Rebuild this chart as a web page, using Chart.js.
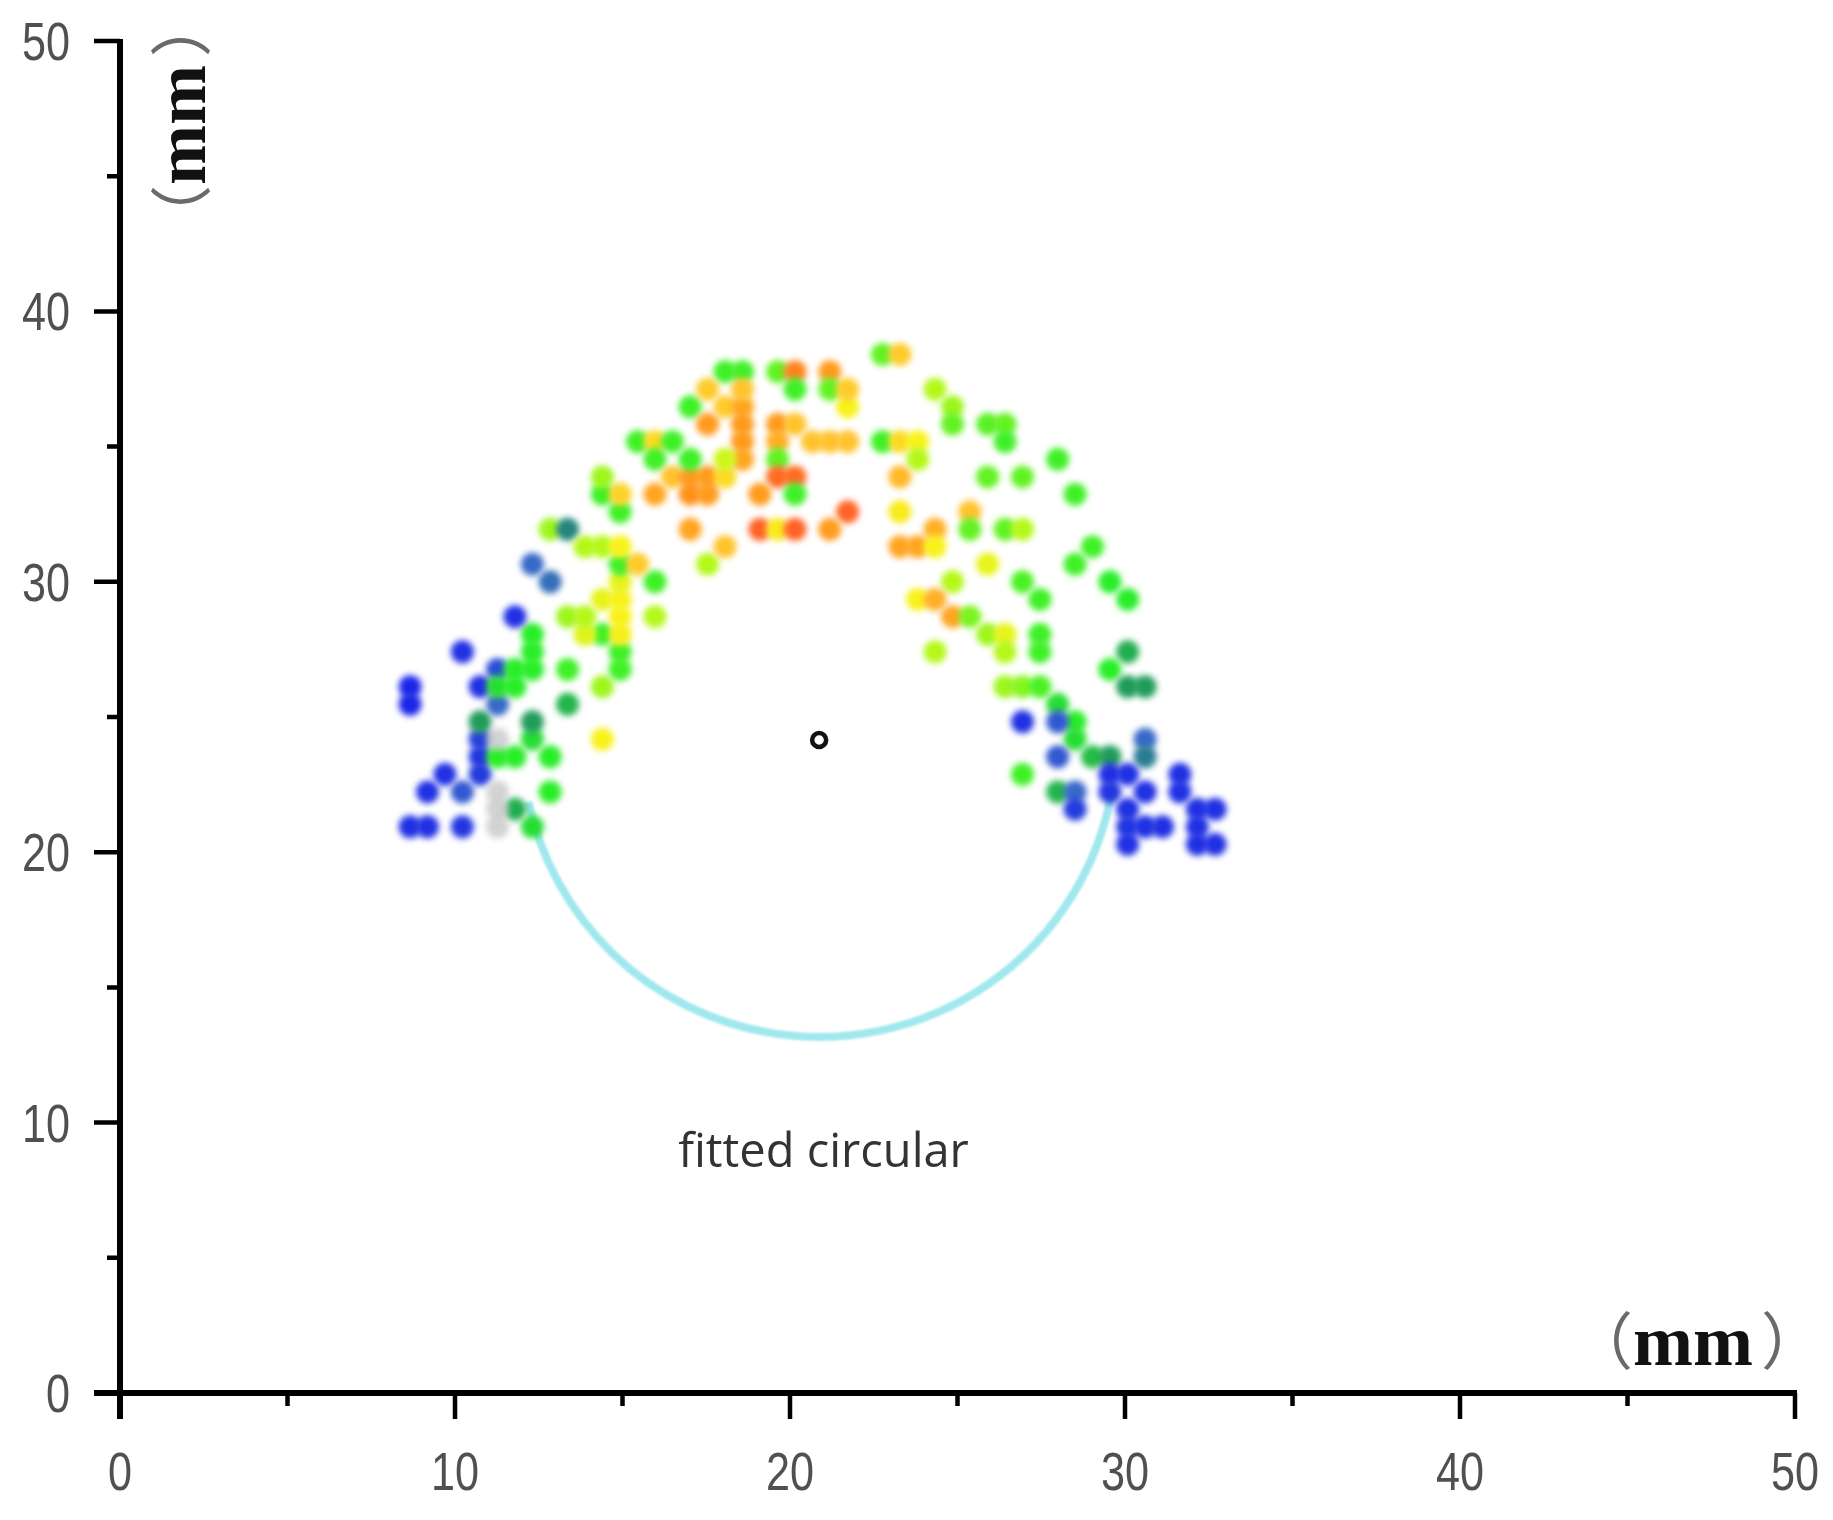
<!DOCTYPE html>
<html>
<head>
<meta charset="utf-8">
<script src="https://cdn.jsdelivr.net/npm/chart.js@4.4.1/dist/chart.umd.min.js"></script>
<style>
html,body{margin:0;padding:0;background:#ffffff;}
#wrap{width:1833px;height:1520px;position:relative;}
canvas{display:block;}
</style>
</head>
<body>
<div id="wrap"><canvas id="c" width="1833" height="1520"></canvas></div>
<script>
// ---------------- data ----------------
const xTicks = [0, 10, 20, 30, 40, 50];
const yTicks = [0, 10, 20, 30, 40, 50];

// measured points (mm)
const pointX = [
  8.66, 9.18, 10.22, 9.18, 9.70, 10.22, 10.75, 10.75, 10.75, 10.75,
  11.27, 11.79, 12.31, 12.31, 12.84, 12.84, 11.79, 12.31, 8.66, 8.66,
  10.22, 10.75, 11.27, 11.27, 11.27, 11.79, 11.79, 12.31, 12.31, 12.31,
  11.79, 13.36, 13.36, 14.40, 14.40, 14.93, 14.93, 14.40, 14.93, 13.88,
  13.36, 13.88, 14.93, 14.40, 14.93, 14.93, 15.97, 15.97, 14.93, 15.45,
  12.31, 12.84, 12.84, 13.36, 13.88, 14.40, 14.93, 14.93, 14.40, 14.40,
  14.93, 15.45, 15.97, 16.49, 15.97, 15.97, 17.02, 17.02, 17.54, 18.06,
  11.27, 11.27, 11.27, 11.27,
  16.49, 17.02, 17.54, 18.06, 17.02, 17.54, 17.02, 18.06, 18.58, 19.63,
  20.15, 20.15, 21.19, 21.19, 21.72, 21.72, 17.54, 18.06, 18.58, 18.58,
  18.58, 18.58, 18.06, 17.54, 19.63, 20.15, 19.63, 19.63, 20.67, 21.19,
  21.72, 19.63, 20.15, 20.15, 19.10, 21.72, 19.10, 19.63, 20.15, 21.19,
  18.58,
  22.76, 23.28, 24.33, 24.85, 24.85, 22.76, 23.28, 23.81, 23.81, 23.28,
  23.28, 23.28, 23.81, 24.33, 24.33, 25.37, 25.37, 24.85, 23.81, 24.33,
  24.85, 25.37, 25.90, 26.42, 26.42, 24.33, 25.90, 26.42, 26.42, 27.99,
  25.90, 26.94, 28.51, 26.42, 26.94, 25.90, 26.94, 27.46, 28.51, 29.03,
  29.55, 30.08, 27.46, 27.46, 30.08, 29.55, 30.08, 30.60, 26.42, 26.94,
  27.46, 27.99, 28.51, 28.51, 29.03, 29.55, 26.94, 27.99, 27.99, 26.94,
  27.99, 28.51, 28.51, 30.60, 30.60, 29.55, 30.08, 29.55, 30.60, 30.08,
  30.08, 30.60, 31.12, 30.08, 31.64, 31.64, 32.16, 32.69, 32.16, 32.16,
  32.69
];
const pointY = [
  20.94, 20.94, 20.94, 22.23, 22.88, 22.23, 22.88, 23.53, 24.18, 24.82,
  23.53, 23.53, 24.18, 24.82, 23.53, 22.23, 21.59, 20.94, 25.47, 26.12,
  27.41, 26.12, 26.76, 25.47, 26.12, 26.12, 26.76, 26.76, 27.41, 28.06,
  28.71, 25.47, 26.76, 26.12, 24.18, 26.76, 27.41, 28.06, 28.06, 28.06,
  28.71, 28.71, 28.71, 29.35, 29.35, 30.00, 28.71, 30.00, 30.65, 30.65,
  30.65, 30.00, 31.94, 31.94, 31.30, 31.30, 31.30, 32.59, 33.24, 33.88,
  33.24, 35.18, 35.18, 35.18, 34.53, 33.24, 36.47, 31.94, 30.65, 31.30,
  20.94, 21.59, 22.23, 24.18,
  33.88, 33.88, 33.88, 33.88, 33.24, 33.24, 34.53, 37.77, 37.77, 37.77,
  37.77, 37.12, 37.77, 37.12, 36.47, 37.12, 37.12, 36.47, 36.47, 35.83,
  35.18, 34.53, 34.53, 35.83, 35.83, 35.83, 35.18, 34.53, 35.18, 35.18,
  35.18, 33.88, 33.88, 33.24, 33.24, 32.59, 31.94, 31.94, 31.94, 31.94,
  37.12,
  38.41, 38.41, 37.12, 36.47, 35.83, 35.18, 35.18, 35.18, 34.53, 33.88,
  32.59, 31.30, 31.30, 31.94, 31.30, 32.59, 31.94, 30.00, 29.35, 29.35,
  28.71, 28.71, 28.06, 28.06, 27.41, 27.41, 35.83, 35.83, 35.18, 34.53,
  33.88, 33.88, 33.24, 31.94, 31.94, 30.65, 30.00, 29.35, 30.65, 31.30,
  30.00, 29.35, 28.06, 27.41, 27.41, 26.76, 26.12, 26.12, 26.12, 26.12,
  26.12, 25.47, 24.82, 24.18, 23.53, 23.53, 24.82, 24.82, 23.53, 22.88,
  22.23, 22.23, 21.59, 24.18, 23.53, 22.88, 22.88, 22.23, 22.23, 21.59,
  20.94, 20.94, 20.94, 20.29, 22.88, 22.23, 21.59, 21.59, 20.94, 20.29,
  20.29
];
// relative intensity of each point (0 = low / blue ... 1 = high / red, -1 = background trace)
const pointValue = [
  0.05, 0.05, 0.06, 0.05, 0.05, 0.12, 0.07, 0.06, 0.08, 0.30,
  0.40, 0.40, 0.38, 0.30, 0.40, 0.40, 0.32, 0.38, 0.03, 0.03,
  0.05, 0.05, 0.10, 0.15, 0.38, 0.40, 0.40, 0.40, 0.40, 0.40,
  0.05, 0.33, 0.42, 0.50, 0.60, 0.42, 0.42, 0.42, 0.61, 0.57,
  0.50, 0.52, 0.60, 0.58, 0.60, 0.58, 0.52, 0.42, 0.42, 0.70,
  0.15, 0.17, 0.50, 0.25, 0.52, 0.52, 0.60, 0.42, 0.42, 0.50,
  0.68, 0.42, 0.66, 0.42, 0.42, 0.78, 0.42, 0.78, 0.52, 0.72,
  -1, -1, -1, -1,
  0.72, 0.80, 0.80, 0.66, 0.82, 0.80, 0.42, 0.42, 0.42, 0.45,
  0.85, 0.42, 0.80, 0.45, 0.60, 0.70, 0.70, 0.70, 0.78, 0.80,
  0.80, 0.78, 0.55, 0.80, 0.80, 0.72, 0.76, 0.45, 0.72, 0.72,
  0.72, 0.90, 0.90, 0.42, 0.80, 0.92, 0.92, 0.62, 0.92, 0.80,
  0.72,
  0.45, 0.70, 0.52, 0.50, 0.45, 0.42, 0.66, 0.60, 0.52, 0.74,
  0.62, 0.78, 0.78, 0.76, 0.60, 0.72, 0.45, 0.52, 0.60, 0.76,
  0.78, 0.47, 0.50, 0.58, 0.52, 0.52, 0.44, 0.45, 0.42, 0.42,
  0.45, 0.45, 0.42, 0.45, 0.52, 0.58, 0.43, 0.42, 0.42, 0.42,
  0.40, 0.40, 0.42, 0.42, 0.32, 0.40, 0.30, 0.30, 0.50, 0.48,
  0.43, 0.38, 0.40, 0.38, 0.34, 0.30, 0.05, 0.12, 0.12, 0.42,
  0.33, 0.15, 0.07, 0.15, 0.22, 0.05, 0.05, 0.06, 0.05, 0.05,
  0.06, 0.05, 0.05, 0.05, 0.05, 0.05, 0.05, 0.05, 0.05, 0.05,
  0.05
];

// fitted circle (centre + radii in axis units) and its label
const circleCenterX = [20.87];
const circleCenterY = [24.15];
const circleRadiusX = 8.87;
const circleRadiusY = 10.98;
const circleArcDeg = [10, 168];
const fittedLabel = 'fitted circular';
const fittedLabelAt = [21.0, 8.36];
const unitText = ['（', 'mm', '）'];

// ---------------- styling helpers ----------------
const stops = [
  [0.00, [20, 20, 240]],
  [0.15, [55, 105, 200]],
  [0.28, [30, 140, 100]],
  [0.40, [40, 238, 40]],
  [0.52, [180, 248, 25]],
  [0.60, [248, 242, 25]],
  [0.72, [255, 195, 45]],
  [0.82, [255, 145, 25]],
  [0.95, [255, 85, 40]]
];
function colorFor(v) {
  if (v < 0) return 'rgba(200,200,200,0.8)';
  if (v <= stops[0][0]) return 'rgb(' + stops[0][1].join(',') + ')';
  for (let k = 1; k < stops.length; k++) {
    if (v <= stops[k][0]) {
      const [a, ca] = stops[k - 1], [b, cb] = stops[k];
      const t = (v - a) / (b - a);
      const c = ca.map((q, n) => Math.round(q + (cb[n] - q) * t));
      return 'rgb(' + c.join(',') + ')';
    }
  }
  return 'rgb(' + stops[stops.length - 1][1].join(',') + ')';
}

const TICK_FONT = "54px 'Liberation Sans', Arial, sans-serif";
const PAREN_FONT = "62px 'Noto Sans CJK SC', 'Noto Sans CJK JP', sans-serif";
const MM_FONT = "bold 72px 'Liberation Serif', serif";

const pointsData = pointX.map((x, i) => ({x: x, y: pointY[i]}));
const centerData = circleCenterX.map((x, i) => ({x: x, y: circleCenterY[i]}));

// ---------------- plugins ----------------
const blurPlugin = {
  id: 'blurPoints',
  beforeDatasetDraw(chart, args) {
    if (args.index === 0) { chart.ctx.save(); chart.ctx.filter = 'blur(3px)'; }
  },
  afterDatasetDraw(chart, args) {
    if (args.index === 0) { chart.ctx.restore(); }
  }
};

const arcPlugin = {
  id: 'fittedArc',
  beforeDatasetsDraw(chart) {
    const ctx = chart.ctx, xs = chart.scales.x, ys = chart.scales.y;
    const cx = xs.getPixelForValue(circleCenterX[0]);
    const cy = ys.getPixelForValue(circleCenterY[0]);
    const rx = xs.getPixelForValue(circleCenterX[0] + circleRadiusX) - cx;
    const ry = ys.getPixelForValue(circleCenterY[0] - circleRadiusY) - cy;
    ctx.save();
    ctx.filter = 'blur(1px)';
    ctx.strokeStyle = 'rgb(160,232,238)';
    ctx.lineWidth = 8;
    ctx.beginPath();
    ctx.ellipse(cx, cy, rx, ry, 0, circleArcDeg[0] * Math.PI / 180, circleArcDeg[1] * Math.PI / 180);
    ctx.stroke();
    ctx.restore();
  }
};

function drawUnit(ctx) {
  let x = 0;
  ctx.textBaseline = 'alphabetic';
  ctx.textAlign = 'left';
  ctx.font = PAREN_FONT;
  ctx.fillStyle = '#6a6a6a';
  ctx.fillText(unitText[0], x, 0);
  x += ctx.measureText(unitText[0]).width;
  ctx.font = MM_FONT;
  ctx.fillStyle = '#111';
  ctx.fillText(unitText[1], x, 0);
  x += ctx.measureText(unitText[1]).width;
  ctx.font = PAREN_FONT;
  ctx.fillStyle = '#6a6a6a';
  ctx.fillText(unitText[2], x + 8, 0);
}

function narrowText(ctx, text, x, y, align) {
  ctx.save();
  ctx.translate(x, y);
  ctx.scale(0.8, 1);
  ctx.textAlign = align;
  ctx.fillText(text, 0, 0);
  ctx.restore();
}

const axesPlugin = {
  id: 'axesAndText',
  afterDraw(chart) {
    const ctx = chart.ctx, xs = chart.scales.x, ys = chart.scales.y;
    const x0 = xs.getPixelForValue(0), x50 = xs.getPixelForValue(50);
    const y0 = ys.getPixelForValue(0), y50 = ys.getPixelForValue(50);
    const MAJ = 26, MIN = 13;
    ctx.save();
    ctx.strokeStyle = '#000';
    ctx.lineCap = 'butt';
    ctx.lineWidth = 6;
    ctx.beginPath();
    ctx.moveTo(x0, y50 - 2); ctx.lineTo(x0, y0 + MAJ);
    ctx.moveTo(x0 - MAJ, y0); ctx.lineTo(x50 + 2, y0);
    ctx.stroke();
    ctx.lineWidth = 4.5;
    ctx.beginPath();
    for (let v = 0; v <= 50; v += 5) {
      const len = (v % 10 === 0) ? MAJ : MIN;
      const py = ys.getPixelForValue(v);
      ctx.moveTo(x0, py); ctx.lineTo(x0 - len, py);
      const px = xs.getPixelForValue(v);
      ctx.moveTo(px, y0); ctx.lineTo(px, y0 + len);
    }
    ctx.stroke();

    // tick labels
    ctx.font = TICK_FONT;
    ctx.fillStyle = '#505050';
    ctx.textBaseline = 'alphabetic';
    xTicks.forEach(v => narrowText(ctx, String(v), xs.getPixelForValue(v), y0 + 97, 'center'));
    yTicks.forEach(v => narrowText(ctx, String(v), x0 - 50, ys.getPixelForValue(v) + 19, 'right'));

    // fitted label
    ctx.font = "47px 'Open Sans', 'Noto Sans', sans-serif";
    ctx.fillStyle = '#333';
    ctx.textAlign = 'center';
    ctx.textBaseline = 'alphabetic';
    ctx.fillText(fittedLabel, xs.getPixelForValue(fittedLabelAt[0]), ys.getPixelForValue(fittedLabelAt[1]));

    // x unit label
    ctx.save();
    ctx.translate(x50 - 224, y0 - 28);
    drawUnit(ctx);
    ctx.restore();
    // y unit label (rotated, reads bottom to top)
    ctx.save();
    ctx.translate(x0 + 85, y50 + 206);
    ctx.rotate(-Math.PI / 2);
    drawUnit(ctx);
    ctx.restore();
    ctx.restore();
  }
};

// ---------------- chart ----------------
new Chart(document.getElementById('c'), {
  type: 'scatter',
  data: {
    datasets: [
      {
        data: pointsData,
        pointStyle: 'circle',
        pointRadius: 11.5,
        pointBorderWidth: 0,
        pointBackgroundColor: (c) => colorFor(pointValue[c.dataIndex]),
        borderWidth: 0
      },
      {
        data: centerData,
        pointStyle: 'circle',
        pointRadius: 7,
        pointBorderWidth: 4.5,
        pointBorderColor: '#111',
        pointBackgroundColor: '#fff'
      }
    ]
  },
  options: {
    responsive: false,
    animation: false,
    devicePixelRatio: 1,
    layout: {padding: {left: 20, right: 38, top: 41, bottom: 19}},
    plugins: {legend: {display: false}, tooltip: {enabled: false}},
    scales: {
      x: {
        type: 'linear', min: 0, max: 50,
        afterBuildTicks: (s) => { s.ticks = xTicks.map(v => ({value: v})); },
        afterFit: (s) => { s.height = 108; s.paddingLeft = 0; s.paddingRight = 0; s.paddingTop = 0; s.paddingBottom = 0; },
        grid: {display: false, drawTicks: false},
        border: {display: false},
        ticks: {display: false}
      },
      y: {
        type: 'linear', min: 0, max: 50,
        afterBuildTicks: (s) => { s.ticks = yTicks.map(v => ({value: v})); },
        afterFit: (s) => { s.width = 100; s.paddingLeft = 0; s.paddingRight = 0; s.paddingTop = 0; s.paddingBottom = 0; },
        grid: {display: false, drawTicks: false},
        border: {display: false},
        ticks: {display: false}
      }
    }
  },
  plugins: [blurPlugin, arcPlugin, axesPlugin]
});
</script>
</body>
</html>
